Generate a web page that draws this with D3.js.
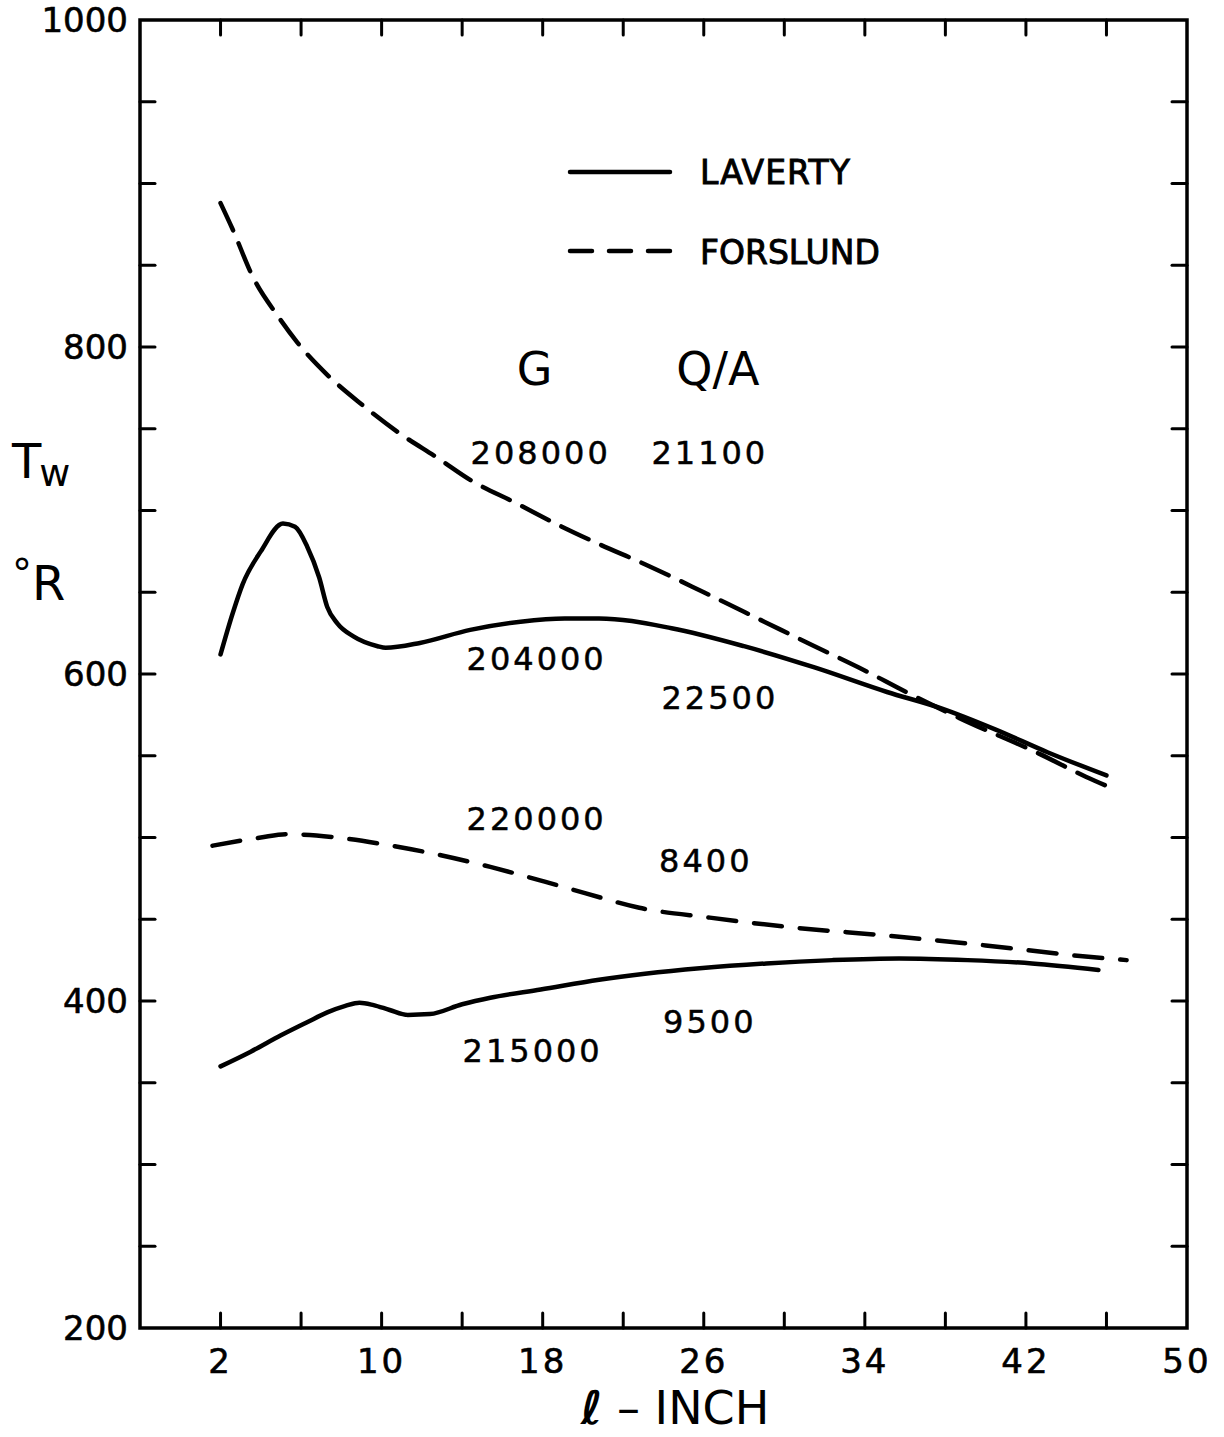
<!DOCTYPE html>
<html>
<head>
<meta charset="utf-8">
<script src="https://cdn.jsdelivr.net/npm/d3@7"></script>
<style>
  body { margin: 0; background: #fff; }
  svg text { font-family: "DejaVu Sans", "Liberation Sans", sans-serif; fill: #000; }
</style>
</head>
<body>
<svg id="chart" width="1224" height="1437"></svg>
<script>
// axis ticks
const xTicks = [2, 6, 10, 14, 18, 22, 26, 30, 34, 38, 42, 46];
const xLabels = [2, 10, 18, 26, 34, 42, 50];
const yTicks = [250, 300, 350, 400, 450, 500, 550, 600, 650, 700, 750, 800, 850, 900, 950];
const yLabels = [200, 400, 600, 800, 1000];

// curves: [l (inch), Tw (deg R)]
const lavertyUpper = [
  [2, 612], [2.6, 637], [3.1, 655], [4.0, 675], [5.1, 692], [5.7, 690], [6.3, 678],
  [6.9, 659], [7.3, 641], [7.8, 631], [8.6, 623], [9.8, 617], [10.2, 616], [11.9, 619],
  [14.4, 627], [16.9, 632], [19.1, 634], [20.8, 634], [24.4, 628], [28, 617],
  [31.5, 604], [35.1, 589], [37.8, 579], [40.5, 566], [43.1, 552], [46.0, 538]
];
const forslundUpper = [
  [2, 888], [2.6, 872], [3.6, 843], [4.9, 818], [5.8, 803], [7.3, 783], [9.0, 765],
  [10.8, 748], [12.8, 732], [14.5, 718], [16.6, 705], [18.8, 691], [20.7, 680],
  [23.1, 667], [26, 650], [29, 632], [31.5, 617], [33.7, 604], [36.2, 588],
  [38.7, 573], [42.7, 551], [45, 537], [46.3, 530]
];
const forslundLower = [
  [1.6, 495], [4.0, 500], [5.3, 502], [7.8, 500], [10.5, 495], [13, 489], [15.4, 482],
  [18.1, 473], [20.1, 466], [22.8, 457], [26.3, 451], [30.4, 445], [35.1, 440],
  [40, 434], [45.1, 427], [47, 425]
];
const lavertyLower = [
  [2, 360], [3.5, 369], [5, 379], [6.3, 387], [7.3, 393], [8.2, 397], [8.9, 399],
  [9.6, 397.5], [10.4, 394.5], [11.3, 391.5], [12.4, 392], [14, 398], [15.4, 402],
  [17.9, 407], [20.8, 413], [25.8, 420], [29.1, 423], [32.4, 425], [35.7, 426],
  [39.1, 425], [42.3, 423], [45.6, 419]
];

// case annotations: text, centre in data units
const annotations = [
  { t: "208000", x: 17.9, y: 736 }, { t: "21100", x: 26.3, y: 736 },
  { t: "204000", x: 17.7, y: 610 }, { t: "22500", x: 26.8, y: 586 },
  { t: "220000", x: 17.7, y: 512 }, { t: "8400", x: 26.1, y: 486 },
  { t: "215000", x: 17.5, y: 370 }, { t: "9500", x: 26.3, y: 388 }
];
const headers = [{ t: "G", x: 17.6, y: 787 }, { t: "Q/A", x: 26.7, y: 787 }];

const W = 1224, H = 1437;
const m = { top: 20, right: 37, bottom: 109, left: 140 };
const svg = d3.select("#chart");

const x = d3.scaleLinear().domain([-2, 50]).range([m.left, W - m.right]);
const y = d3.scaleLinear().domain([200, 1000]).range([H - m.bottom, m.top]);

const tick = 15;

// frame
svg.append("rect")
  .attr("x", x(-2)).attr("y", y(1000))
  .attr("width", x(50) - x(-2)).attr("height", y(200) - y(1000))
  .attr("fill", "none").attr("stroke", "#000").attr("stroke-width", 3.5);

// inward ticks on all four sides
const tickG = svg.append("g").attr("stroke", "#000").attr("stroke-width", 3).attr("stroke-linecap", "round");
xTicks.forEach(v => {
  tickG.append("line").attr("x1", x(v)).attr("x2", x(v)).attr("y1", y(200)).attr("y2", y(200) - tick);
  tickG.append("line").attr("x1", x(v)).attr("x2", x(v)).attr("y1", y(1000)).attr("y2", y(1000) + tick);
});
yTicks.forEach(v => {
  tickG.append("line").attr("x1", x(-2)).attr("x2", x(-2) + tick).attr("y1", y(v)).attr("y2", y(v));
  tickG.append("line").attr("x1", x(50)).attr("x2", x(50) - tick).attr("y1", y(v)).attr("y2", y(v));
});

// tick labels
svg.append("g").selectAll("text").data(xLabels).join("text")
  .attr("x", d => x(d)).attr("y", y(200) + 45)
  .attr("text-anchor", "middle").attr("font-size", 34).attr("letter-spacing", 3)
  .attr("stroke", "#000").attr("stroke-width", 0.6)
  .text(d => d);

svg.append("g").selectAll("text").data(yLabels).join("text")
  .attr("x", 128).attr("y", d => y(d) + 12)
  .attr("text-anchor", "end").attr("font-size", 34)
  .attr("stroke", "#000").attr("stroke-width", 0.6)
  .text(d => d);

// axis titles
const xt = svg.append("text").attr("x", 675).attr("y", 1424)
  .attr("text-anchor", "middle").attr("font-size", 46);
xt.append("tspan").attr("font-style", "italic").attr("font-weight", "bold").text("ℓ");
xt.append("tspan").text(" – INCH");

const yt = svg.append("text").attr("x", 12).attr("y", 478).attr("font-size", 48);
yt.append("tspan").text("T");
yt.append("tspan").attr("font-size", 38).attr("dy", 8).attr("dx", -2).text("w");

const yr = svg.append("text").attr("x", 12).attr("y", 600).attr("font-size", 48);
yr.append("tspan").attr("font-size", 40).attr("dy", -12).text("°");
yr.append("tspan").attr("dy", 12).text("R");

// curves
const line = d3.line().x(d => x(d[0])).y(d => y(d[1])).curve(d3.curveMonotoneX);
const curves = [
  { data: forslundUpper, dash: "30,14" },
  { data: forslundLower, dash: "28,18" },
  { data: lavertyUpper, dash: null },
  { data: lavertyLower, dash: null }
];
curves.forEach(c => {
  svg.append("path").attr("d", line(c.data))
    .attr("fill", "none").attr("stroke", "#000").attr("stroke-width", 4.5)
    .attr("stroke-linecap", "round")
    .attr("stroke-dasharray", c.dash);
});

// headers and case labels
svg.append("g").selectAll("text").data(headers).join("text")
  .attr("x", d => x(d.x)).attr("y", d => y(d.y) + 17)
  .attr("text-anchor", "middle").attr("font-size", 46)
  .text(d => d.t);

svg.append("g").selectAll("text").data(annotations).join("text")
  .attr("x", d => x(d.x)).attr("y", d => y(d.y) + 12)
  .attr("text-anchor", "middle").attr("font-size", 32).attr("letter-spacing", 3)
  .attr("stroke", "#000").attr("stroke-width", 0.5)
  .text(d => d.t);

// legend
const lg = svg.append("g");
lg.append("line").attr("x1", 570).attr("x2", 670).attr("y1", 172).attr("y2", 172)
  .attr("stroke", "#000").attr("stroke-width", 4.5).attr("stroke-linecap", "round");
lg.append("line").attr("x1", 570).attr("x2", 670).attr("y1", 251).attr("y2", 251)
  .attr("stroke", "#000").attr("stroke-width", 4.5).attr("stroke-linecap", "round")
  .attr("stroke-dasharray", "22,17");
lg.append("text").attr("x", 700).attr("y", 184).attr("font-size", 33)
  .attr("stroke", "#000").attr("stroke-width", 0.9).attr("letter-spacing", 1).text("LAVERTY");
lg.append("text").attr("x", 700).attr("y", 264).attr("font-size", 33)
  .attr("stroke", "#000").attr("stroke-width", 0.9).attr("letter-spacing", 0).text("FORSLUND");
</script>
</body>
</html>
